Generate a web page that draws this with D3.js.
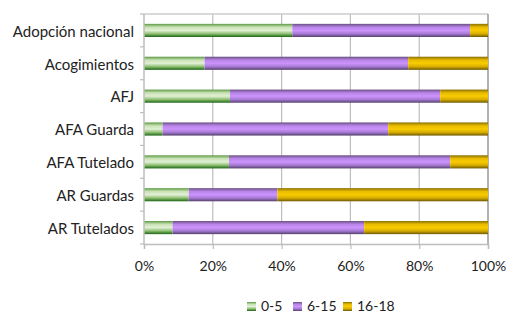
<html>
<head>
<meta charset="utf-8">
<script src="https://d3js.org/d3.v7.min.js"></script>
<style>
  body { margin: 0; background: #fff; }
  svg text { font-family: Lato, "Open Sans", sans-serif; fill: #222; }
</style>
</head>
<body>
<script>
// categories top to bottom
var categories = ["Adopción nacional", "Acogimientos", "AFJ", "AFA Guarda", "AFA Tutelado", "AR Guardas", "AR Tutelados"];
var seriesNames = ["0-5", "6-15", "16-18"];
// percentages per age group
var age0_5   = [43.1, 17.6, 25.0, 5.4, 24.7, 13.0, 8.3];
var age6_15  = [51.7, 59.2, 61.1, 65.6, 64.3, 25.8, 55.7];
var age16_18 = [5.2, 23.2, 13.9, 29.0, 11.0, 61.2, 36.0];
var tickValues = [0, 20, 40, 60, 80, 100];

var width = 506, height = 314;
var margin = {top: 14, right: 18, bottom: 70, left: 144};

var svg = d3.select("body").append("svg")
  .attr("width", width).attr("height", height);

// gradients
var defs = svg.append("defs");
var grads = [
  {id: "g0", stops: ["#5c9a44", "#c9e2b4", "#e2f0d6", "#8fc072", "#1b6614"]},
  {id: "g1", stops: ["#6a5080", "#b884e8", "#cc94fc", "#a77ad6", "#56406c"]},
  {id: "g2", stops: ["#8a7000", "#e8bc00", "#f8cb00", "#d8ae00", "#6e5800"]}
];
grads.forEach(function(g) {
  var lg = defs.append("linearGradient").attr("id", g.id)
    .attr("x1", 0).attr("y1", 0).attr("x2", 0).attr("y2", 1);
  g.stops.forEach(function(c, i) {
    lg.append("stop").attr("offset", (i / (g.stops.length - 1) * 100) + "%").attr("stop-color", c);
  });
});

var x = d3.scaleLinear().domain([0, 100]).range([margin.left, width - margin.right]);
var y = d3.scaleBand().domain(categories).range([margin.top, height - margin.bottom]).paddingInner(0.6).paddingOuter(0.3);

// gridlines
svg.append("g").selectAll("line").data(tickValues.slice(1, 5)).enter().append("line")
  .attr("x1", function(d) { return x(d); }).attr("x2", function(d) { return x(d); })
  .attr("y1", margin.top).attr("y2", height - margin.bottom)
  .attr("stroke", "#bdbdbd").attr("stroke-width", 1.2);

// plot border top & right
svg.append("line").attr("x1", x(0)).attr("x2", x(100)).attr("y1", margin.top).attr("y2", margin.top)
  .attr("stroke", "#cccccc").attr("stroke-width", 1.5);
svg.append("line").attr("x1", x(100)).attr("x2", x(100)).attr("y1", margin.top).attr("y2", height - margin.bottom)
  .attr("stroke", "#9a9a9a").attr("stroke-width", 1.5);

// stacked data
var rows = categories.map(function(c, i) {
  return {cat: c, "0-5": age0_5[i], "6-15": age6_15[i], "16-18": age16_18[i]};
});
var stacked = d3.stack().keys(seriesNames)(rows);

svg.append("g").selectAll("g").data(stacked).enter().append("g")
  .attr("fill", function(d, i) { return "url(#g" + i + ")"; })
  .selectAll("rect").data(function(d) { return d; }).enter().append("rect")
  .attr("x", function(d) { return x(d[0]); })
  .attr("width", function(d) { return x(d[1]) - x(d[0]); })
  .attr("y", function(d) { return y(d.data.cat); })
  .attr("height", y.bandwidth());

// x axis
var xAxis = svg.append("g").attr("transform", "translate(0," + (height - margin.bottom) + ")")
  .call(d3.axisBottom(x).tickValues(tickValues).tickSize(5).tickPadding(12).tickFormat(function(d) { return d + "%"; }));
xAxis.select(".domain").attr("stroke", "#bdbdbd").attr("stroke-width", 1.5);
xAxis.selectAll(".tick line").attr("stroke", "#bdbdbd").attr("stroke-width", 1.2);
xAxis.selectAll("text").style("font-size", "14px").attr("fill", "#222");

// y axis
var bounds = d3.range(categories.length + 1).map(function(i) { return margin.top + i * (height - margin.bottom - margin.top) / categories.length; });
svg.append("line").attr("x1", x(0)).attr("x2", x(0)).attr("y1", margin.top).attr("y2", height - margin.bottom)
  .attr("stroke", "#bdbdbd").attr("stroke-width", 1.5);
svg.append("g").selectAll("line").data(bounds).enter().append("line")
  .attr("x1", x(0) - 4).attr("x2", x(0)).attr("y1", function(d) { return d; }).attr("y2", function(d) { return d; })
  .attr("stroke", "#bdbdbd").attr("stroke-width", 1.2);
svg.append("g").selectAll("text").data(categories).enter().append("text")
  .attr("x", x(0) - 10).attr("y", function(d) { return y(d) + y.bandwidth() / 2 + 1; })
  .attr("dy", "0.35em").attr("text-anchor", "end").style("font-size", "15px")
  .text(function(d) { return d; });

// legend
var legendX = [247, 293, 343];
var legend = svg.append("g").selectAll("g").data(seriesNames).enter().append("g")
  .attr("transform", function(d, i) { return "translate(" + legendX[i] + ",302)"; });
legend.append("rect").attr("width", 9).attr("height", 9)
  .attr("fill", function(d, i) { return "url(#g" + i + ")"; });
legend.append("text").attr("x", 14).attr("y", 4.5).attr("dy", "0.35em")
  .style("font-size", "14px").text(function(d) { return d; });
</script>
</body>
</html>
